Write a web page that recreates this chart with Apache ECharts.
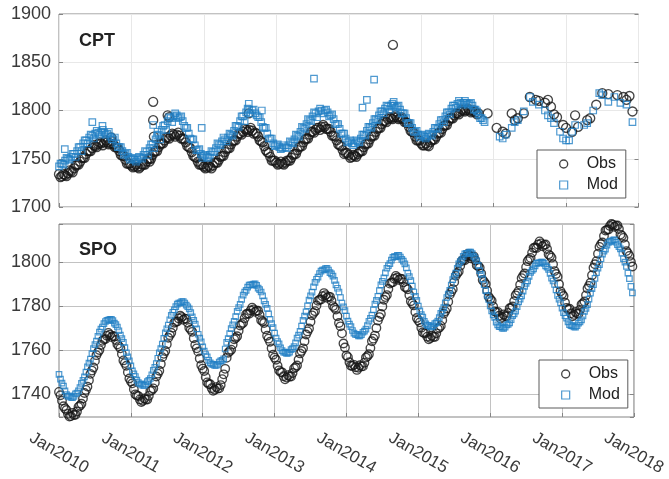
<!DOCTYPE html>
<html><head><meta charset="utf-8">
<script src="https://cdn.jsdelivr.net/npm/echarts@6/dist/echarts.min.js"></script>
<style>html,body{margin:0;padding:0;background:#fff}#c{width:669px;height:479px}</style>
</head><body><div id="c"></div><script>
// ---- data ----
const tickLabels = ['Jan2010','Jan2011','Jan2012','Jan2013','Jan2014','Jan2015','Jan2016','Jan2017','Jan2018'];
const firstYear = 2010;
const samplesPerYear = 24; // half-monthly sampling grid; "B" arrays are the samples half a step later

const spoObs = [
1741,1737,1733.5,1731,1730,1730.5,1732.1,1734.7,1738.0,1741.9,1746.3,1750.7,1755.1,1759.0,1762.3,1764.9,1766.5,1767,1766.4,1764.6,1761.8,1758.2,1754.1,1749.9,
1745.8,1742.2,1739.4,1737.6,1737,1737.6,1739.2,1741.8,1745.2,1749.3,1753.7,1758.3,1762.7,1766.8,1770.2,1772.8,1774.4,1775,1774.3,1772.4,1769.3,1765.4,1760.8,1756.2,
1751.6,1747.7,1744.6,1742.7,1742,1742.5,1744.1,1749,1756.5,1759.5,1762.5,1765.5,1768.8,1771.8,1774.5,1776.6,1778.0,1778.5,1777.9,1776.0,1773.1,1769.4,1765.2,1760.8,
1756.6,1752.9,1750.0,1748.1,1747.5,1748.0,1749.6,1752.2,1755.6,1759.6,1764.0,1768.5,1772.9,1776.9,1780.3,1782.9,1784.5,1785,1784.3,1782.4,1779.3,1775.4,1770.8,1763,
1757.5,1754.5,1752.8,1752.2,1752,1752.6,1754.3,1757.2,1760.9,1765.2,1770.0,1775.0,1779.8,1784.1,1787.8,1790.7,1792.4,1793,1792.4,1790.8,1788.3,1785.0,1781.2,1777.3,
1773.5,1770.2,1767.7,1766.1,1765.5,1766.0,1767.6,1770.2,1773.6,1777.6,1782.0,1786.5,1790.9,1794.9,1798.3,1800.9,1802.5,1803,1802.4,1800.8,1798.2,1794.8,1791.0,1787.0,
1783.2,1779.8,1777.2,1775.6,1775,1775.5,1776.9,1779.2,1782.2,1785.8,1789.7,1793.8,1797.7,1801.3,1804.3,1806.6,1808.0,1808.5,1807.8,1805.9,1802.9,1799.0,1794.6,1789.9,
1785.5,1781.6,1778.6,1776.7,1776,1776.6,1778.3,1781.2,1784.9,1789.2,1794.0,1799.0,1803.8,1808.1,1811.8,1814.7,1816.4,1817,1816.5,1815,1812,1808,1804,1800
];
const spoObsB = [
1739.5,1734.5,1732.8,1729.8,1731.5,1730.6,1734.2,1735.6,1740.5,1743.4,1749.2,1752.1,1757.7,1760.0,1764.2,1765.0,1767.8,1765.9,1766.2,1762.6,1760.8,1755.3,1752.9,1747.1,
1744.9,1739.9,1739.1,1736.4,1738.0,1737.5,1741.4,1742.6,1748.0,1750.6,1756.8,1759.6,1765.6,1767.9,1772.4,1773.0,1775.6,1773.8,1774.2,1770.1,1768.3,1762.3,1759.3,1753.1,
1750.5,1745.3,1744.5,1741.5,1743.2,1742.6,1746.8,1751.5,1758.8,1760.2,1764.9,1766.3,1771.2,1772.4,1776.3,1776.5,1779.3,1777.4,1777.9,1773.6,1772.3,1766.5,1763.8,1757.9,
1755.6,1750.8,1749.9,1746.7,1748.6,1748.0,1751.7,1753.0,1758.5,1760.8,1767.1,1769.8,1775.8,1777.7,1782.4,1783.0,1785.9,1783.8,1784.2,1780.0,1778.4,1772.3,1767.6,1761.2,
1756.8,1752.9,1753.3,1751.0,1753.1,1752.6,1756.6,1758.1,1764.0,1766.6,1773.4,1776.4,1782.9,1785.0,1790.2,1790.8,1793.7,1791.9,1792.3,1788.7,1787.6,1782.2,1780.3,1774.6,
1772.6,1768.1,1767.8,1764.9,1766.6,1766.0,1769.7,1771.0,1776.5,1778.9,1785.2,1787.7,1793.8,1795.7,1800.5,1800.8,1803.7,1801.7,1802.6,1798.6,1797.4,1791.9,1790.0,1784.2,
1782.4,1777.6,1777.4,1774.3,1776.2,1775.3,1779.0,1779.8,1784.9,1786.9,1792.7,1794.8,1800.4,1801.9,1806.4,1806.4,1809.4,1807.2,1808.0,1803.5,1802.0,1795.9,1793.3,1786.7,
1784.6,1779.2,1778.8,1775.4,1777.3,1776.5,1780.7,1782.1,1788.0,1790.6,1797.4,1800.4,1806.9,1808.9,1814.3,1814.8,1817.3,1816.0,1816.6,1812.5,1811.0,1805.0,1802.8,1798
];
const spoMod = [
1749,1745,1741.5,1739,1738.5,1739.0,1740.5,1743.0,1746.2,1750.0,1754.1,1758.4,1762.5,1766.3,1769.5,1772.0,1773.5,1774,1773.4,1771.6,1768.8,1765.2,1761.1,1756.9,
1752.8,1749.2,1746.4,1744.6,1744,1744.6,1746.2,1748.8,1752.2,1756.3,1760.7,1765.3,1769.7,1773.8,1777.2,1779.8,1781.4,1782,1781.4,1779.7,1777.0,1773.5,1769.6,1765.4,
1761.5,1758.0,1755.3,1753.6,1753,1753.5,1755.1,1756.0,1763.5,1767.5,1771.5,1775.2,1779.3,1783.0,1786.3,1788.6,1789.7,1790,1789.4,1787.5,1784.6,1780.8,1776.5,1772.0,
1767.7,1763.9,1761.0,1759.1,1758.5,1759.1,1760.7,1763.3,1766.8,1770.9,1775.4,1780.1,1784.6,1788.7,1792.2,1794.8,1796.4,1797,1796.4,1794.6,1791.7,1788.1,1783.9,1779.6,
1775.4,1771.8,1768.9,1767.1,1766.5,1767.0,1768.6,1771.1,1774.4,1778.3,1782.6,1787.0,1791.2,1795.1,1798.4,1800.9,1802.5,1803,1802.3,1800.4,1797.4,1793.4,1789.1,1784.4,
1780.0,1776.1,1773.1,1771.2,1770.5,1771.0,1772.4,1774.8,1777.8,1781.5,1785.5,1789.5,1793.5,1797.2,1800.2,1802.6,1804.0,1804.5,1803.8,1801.8,1798.5,1794.4,1789.7,1784.8,
1780.1,1776.0,1772.7,1770.7,1770,1770.4,1771.7,1773.8,1776.5,1779.7,1783.2,1786.8,1790.3,1793.5,1796.2,1798.3,1799.6,1800,1799.4,1797.7,1794.9,1791.4,1787.4,1783.1,
1779.1,1775.6,1772.8,1771.1,1770.5,1771.1,1772.8,1775.5,1779.0,1783.2,1787.9,1792.6,1797.2,1801.5,1805.0,1807.7,1809.4,1810,1809,1807,1804,1800,1795,1789
];
const spoModB = [
1746.8,1743.6,1739.8,1739.2,1738.4,1740.1,1741.5,1744.9,1747.8,1752.4,1755.9,1760.7,1764.1,1768.2,1770.5,1773.0,1773.6,1774.0,1772.3,1770.5,1766.8,1763.5,1758.8,1755.1,
1750.6,1748.0,1745.2,1744.5,1744.0,1745.7,1747.1,1750.8,1753.9,1758.8,1762.7,1767.8,1771.4,1775.8,1778.3,1780.9,1781.5,1782.0,1780.4,1778.7,1775.1,1771.8,1767.2,1763.7,
1759.5,1756.9,1754.2,1753.5,1753.0,1754.6,1755.3,1760.5,1765.2,1769.8,1773.1,1777.6,1780.8,1785.0,1787.1,1789.5,1789.6,1790.1,1788.2,1786.4,1782.4,1779.0,1774.0,1770.2,
1765.5,1762.8,1759.8,1759.0,1758.6,1760.2,1761.6,1765.4,1768.5,1773.5,1777.4,1782.7,1786.3,1790.8,1793.2,1795.9,1796.5,1797.1,1795.2,1793.6,1789.6,1786.4,1781.4,1777.9,
1773.2,1770.7,1767.7,1767.0,1766.4,1768.1,1769.5,1773.1,1775.9,1780.9,1784.4,1789.6,1792.8,1797.2,1799.3,1802.1,1802.5,1803.0,1801.2,1799.2,1795.0,1791.6,1786.4,1782.6,
1777.8,1775.0,1771.9,1771.1,1770.5,1772.0,1773.2,1776.7,1779.3,1783.9,1787.1,1792.0,1795.0,1799.2,1801.0,1803.7,1804.0,1804.5,1802.6,1800.6,1796.1,1792.4,1787.0,1783.0,
1777.8,1774.9,1771.5,1770.6,1769.9,1771.4,1772.4,1775.6,1777.7,1781.9,1784.6,1789.0,1791.5,1795.3,1796.9,1799.4,1799.6,1800.0,1798.3,1796.7,1792.7,1789.8,1784.8,1781.5,
1777.0,1774.5,1771.6,1771.0,1770.4,1772.2,1773.7,1777.6,1780.7,1785.9,1789.7,1795.2,1798.8,1803.6,1805.9,1808.9,1809.5,1810.1,1807.9,1806.0,1801.6,1798.0,1792.5,1786
];

const cptObs = [
1734,1732,1733,1735,1737,1740,1744,1747,1751,1755,1758,1761,1763,1765,1766,1767,1767,1766,1765,1762,1758,1753,1749,1745,
1743,1742,1741.5,1742,1744,1747,1750,1754,1758,1762,1766,1769,1772,1774,1775,1775,1774,1771,1767,1762,1757,1752,1747,1744,
1742,1741,1741.5,1743,1746,1749,1753,1757,1761,1765,1769,1773,1776,1778,1780,1780,1779,1777,1773,1768,1763,1757,1752,1748,
1746,1745,1745,1746,1748,1751,1755,1759,1763,1767,1771,1775,1778,1780,1782,1783,1783,1781,1778,1774,1769,1764,1759,1756,
1754,1752,1753,1755,1758,1762,1766,1770,1774,1778,1782,1786,1789,1791,1792,1793,1793,1792,1791,1788,1783,1778,1773,1769,
1766,1764,1764,1767,1770,1773,1777,1781,1785,1789,1792,1795,1797,1799,1800,1800.5,1800,1799,1798,1797,null,null,1797,null,
null,1782,null,1778,1776,null,1797,1790,1792,null,1797,null,1814,null,1811,1810,null,1808,1811,1804,1796,1793,null,1785,
1782,null,1778,1795,1783,null,null,1790,1792,null,1806,null,1818,null,1817,null,null,1816,null,1814,1811,1815,1799,null
];
const cptObsB = [
1731,1734,1732,1738,1736,1743,1744,1751,1751,1758,1758,1764,1762,1767,1764,1769,1765,1768,1762,1761,1754,1753,1745,1745,
1741,1744,1740,1744,1744,1750,1750,1757,1758,1765,1766,1772,1771,1776,1773,1777,1771,1770,1763,1761,1753,1751,1744,1744,
1740,1743,1740,1746,1746,1752,1753,1760,1761,1768,1769,1776,1775,1781,1778,1782,1776,1776,1769,1767,1759,1756,1748,1748,
1744,1747,1744,1748,1748,1754,1755,1762,1763,1770,1771,1778,1777,1782,1780,1785,1781,1781,1774,1773,1765,1763,1755,1756,
1751,1754,1752,1757,1758,1765,1766,1773,1774,1781,1782,1789,1788,1793,1791,1795,1791,1793,1788,1787,1779,1777,1769,1769,
1764,1766,1763,1769,1770,1776,1777,1784,1785,1792,1792,1797,1796,1801,1799,1802,1798,1800,1796,null,null,null,null,null
];
const cptMod = [
1742,1745,1748,1750,1752,1755,1758,1762,1766,1769,1772,1774,1776,1777,1778,1777,1776,1773,1770,1766,1762,1758,1755,1752,
1750,1749,1749,1751,1754,1757,1761,1765,1770,1775,1780,1785,1789,1792,1794,1795,1793,1789,1782,1776,1770,1764,1759,1755,
1753,1752,1754,1757,1761,1765,1768,1770,1772,1775,1779,1784,1789,1794,1798,1801,1800,1797,1793,1788,1782,1776,1771,1766,
1764,1762,1761,1762,1764,1767,1770,1774,1778,1782,1786,1790,1794,1797,1799,1800,1800,1798,1795,1791,1786,1781,1776,1771,
1768,1766,1766,1768,1771,1775,1779,1783,1787,1791,1795,1799,1802,1804,1805,1805,1804,1801,1797,1792,1787,1782,1778,1775,
1774,1773,1773,1775,1778,1782,1786,1790,1794,1798,1802,1805,1807,1808,1808,1808,1807,1805,1801,1796,1792,1788,null,null,
null,null,1773,1771,1775,null,1782,1788,1790,null,1799,null,1814,1809,null,1806,null,1800,1795,1792,1787,null,1778,1771,
1769,1769,1778,1785,null,null,1785,1787,null,1800,null,1818,1816,null,1809,null,1814,null,1808,null,1806,null,1788,null
];
const cptModB = [
1745,1744,1751,1749,1755,1752,1762,1758,1769,1766,1775,1771,1779,1775,1780,1775,1778,1770,1772,1762,1762,1754,1756,1749,
1751,1747,1752,1750,1758,1754,1765,1761,1774,1770,1784,1780,1793,1788,1797,1792,1794,1784,1782,1771,1770,1759,1760,1751,
1754,1751,1758,1757,1766,1764,1772,1768,1776,1774,1784,1783,1794,1789,1802,1797,1801,1795,1793,1783,1782,1771,1771,1763,
1765,1760,1764,1761,1768,1766,1775,1773,1783,1781,1791,1789,1798,1793,1802,1797,1801,1794,1796,1786,1786,1776,1776,1767,
1769,1764,1769,1767,1775,1774,1783,1782,1791,1790,1799,1797,1805,1801,1807,1803,1805,1797,1797,1787,1787,1778,1779,1772,
1775,1771,1776,1774,1782,1781,1790,1788,1798,1796,1805,1803,1810,1806,1810,1806,1808,1801,1799,1792,1790,null,null,null
];
// isolated CPT samples off the seasonal band
const cptObsExtraTime = [2010.72, 2011.25, 2011.30, 2011.30, 2011.31, 2011.50, 2011.52, 2012.62, 2014.61];
const cptObsExtraVal  = [1772, 1747, 1809, 1790, 1773, 1795, 1793, 1797, 1868];
const cptModExtraTime = [2010.08, 2010.46, 2010.60, 2011.30, 2011.36, 2011.97, 2012.62, 2012.80, 2013.52, 2014.19, 2014.25, 2014.35, 2014.62];
const cptModExtraVal  = [1760, 1788, 1784, 1785, 1778, 1782, 1807, 1800, 1833, 1803, 1811, 1832, 1809];

// ---- build ----
function toPairs(out, vals, offset) {
  vals.forEach((v, i) => { if (v !== null) out.push([firstYear + (i + offset) / samplesPerYear, v]); });
  return out;
}
function extras(out, ts, vs) { ts.forEach((t, i) => out.push([t, vs[i]])); return out; }

const FONT = '"Liberation Sans", Arial, Helvetica, sans-serif';
const BLUE = '#2280c4', BLACK = '#161616', FRAME = '#858585';

const obsStyle = {color: 'rgba(0,0,0,0)', borderColor: BLACK, borderWidth: 1.35};
const modStyle = {color: 'rgba(0,0,0,0)', borderColor: BLUE, borderWidth: 1.2};

function xAx(grid, showLabels, gridColor) {
  return {
    gridIndex: grid, type: 'value', min: 2010, max: 2018, interval: 1,
    axisLine: {show: false},
    axisTick: {show: true, inside: true, length: 4, lineStyle: {color: FRAME}},
    splitLine: {show: true, lineStyle: {color: gridColor, width: 1}},
    axisLabel: showLabels ? {
      show: true, formatter: v => tickLabels[Math.round(v - 2010)] || '',
      rotate: -30, align: 'center', verticalAlign: 'middle', margin: 36,
      fontSize: 17, color: '#3a3a3a', fontFamily: FONT,
      showMinLabel: true, showMaxLabel: true
    } : {show: false}
  };
}
const legendBase = (left, top) => ({
  orient: 'vertical', left: left, top: top, padding: [6, 8, 5, 22], itemGap: 5,
  itemWidth: 8, itemHeight: 8, borderColor: '#5a5a5a', borderWidth: 1, backgroundColor: '#fff',
  textStyle: {fontSize: 16, color: '#222', padding: [0, 0, 0, 14], fontFamily: FONT},
  data: [{name: 'Obs', icon: 'circle', itemStyle: obsStyle}, {name: 'Mod', icon: 'rect', itemStyle: modStyle}]
});

const option = {
  animation: false,
  backgroundColor: '#fff',
  textStyle: {fontFamily: FONT},
  title: [
    {text: 'CPT', left: 74, top: 27, textStyle: {fontSize: 18, fontWeight: 'bold', color: '#222', fontFamily: FONT}},
    {text: 'SPO', left: 74, top: 236, textStyle: {fontSize: 18, fontWeight: 'bold', color: '#222', fontFamily: FONT}}
  ],
  grid: [
    {left: 59, top: 14, width: 579.5, height: 193, show: true, borderColor: FRAME, borderWidth: 1, backgroundColor: 'transparent'},
    {left: 59, top: 224, width: 579.5, height: 193, show: true, borderColor: FRAME, borderWidth: 1, backgroundColor: 'transparent'}
  ],
  xAxis: [xAx(0, false, '#e8e8e8'), xAx(1, true, '#c2c2c2')],
  yAxis: [
    {gridIndex: 0, type: 'value', min: 1700, max: 1900, interval: 50,
     axisLine: {show: false}, axisTick: {show: true, inside: true, length: 4, lineStyle: {color: FRAME}},
     splitLine: {show: true, lineStyle: {color: '#e8e8e8'}},
     axisLabel: {fontSize: 18, color: '#3a3a3a', margin: 8, fontFamily: FONT, formatter: v => String(Math.round(v))}},
    {gridIndex: 1, type: 'value', min: 1729.6, max: 1817.3, splitNumber: 4,
     axisLine: {show: false}, axisTick: {show: true, inside: true, length: 4, lineStyle: {color: FRAME}},
     splitLine: {show: true, lineStyle: {color: '#c2c2c2'}},
     axisLabel: {fontSize: 18, color: '#3a3a3a', margin: 8, fontFamily: FONT,
       formatter: v => (Math.abs(v / 20 - Math.round(v / 20)) < 1e-6 ? String(Math.round(v)) : '')}},
    {gridIndex: 0, type: 'value', position: 'right', min: 1700, max: 1900, interval: 50,
     axisLine: {show: false}, axisLabel: {show: false}, splitLine: {show: false},
     axisTick: {show: true, inside: true, length: 4, lineStyle: {color: FRAME}}},
    {gridIndex: 1, type: 'value', position: 'right', min: 1729.6, max: 1817.3, splitNumber: 4,
     axisLine: {show: false}, axisLabel: {show: false}, splitLine: {show: false},
     axisTick: {show: true, inside: true, length: 4, lineStyle: {color: FRAME}}}
  ],
  legend: [legendBase(537, 150), legendBase(539, 360)],
  series: [
    {name: 'Obs', type: 'scatter', xAxisIndex: 0, yAxisIndex: 0, symbol: 'circle', symbolSize: 9,
     itemStyle: obsStyle,
     data: extras(toPairs(toPairs([], cptObs, 0), cptObsB, 0.5), cptObsExtraTime, cptObsExtraVal)},
    {name: 'Mod', type: 'scatter', xAxisIndex: 0, yAxisIndex: 0, symbol: 'rect', symbolSize: 6.5,
     itemStyle: modStyle,
     data: extras(toPairs(toPairs([], cptMod, 0), cptModB, 0.5), cptModExtraTime, cptModExtraVal)},
    {name: 'Obs', type: 'scatter', xAxisIndex: 1, yAxisIndex: 1, symbol: 'circle', symbolSize: 8.5,
     itemStyle: obsStyle, data: toPairs(toPairs([], spoObs, 0), spoObsB, 0.5)},
    {name: 'Mod', type: 'scatter', xAxisIndex: 1, yAxisIndex: 1, symbol: 'rect', symbolSize: 5.5,
     itemStyle: modStyle, data: toPairs(toPairs([], spoMod, 0), spoModB, 0.5)}
  ]
};
const chart = echarts.init(document.getElementById('c'), null, {renderer: 'canvas'});
chart.setOption(option);
</script></body></html>
